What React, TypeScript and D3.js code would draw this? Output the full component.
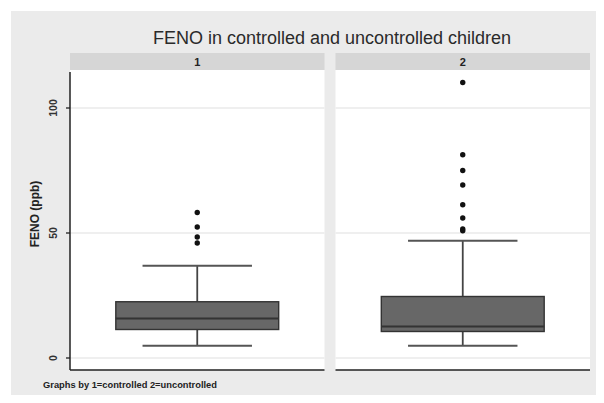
import React, { useRef, useEffect } from 'react';
import * as d3 from 'd3';

const groups = ['1', '2'];
const whiskerLow = [4.9, 4.9];
const q1 = [11.4, 10.6];
const median = [15.8, 12.6];
const q3 = [22.5, 24.6];
const whiskerHigh = [36.9, 46.9];
const outliers1 = [58.2, 52.4, 48.4, 46.0];
const outliers2 = [110.2, 81.3, 75.0, 69.2, 61.3, 56.0, 51.6, 50.9];
const yTicks = [0, 50, 100];

const WIDTH = 604;
const HEIGHT = 403;

function App() {
  const svgRef = useRef<SVGSVGElement>(null);

  useEffect(() => {
    const svg = d3.select(svgRef.current);
    svg.selectAll('*').remove();

    const font = '"Liberation Sans", Arial, sans-serif';
    const top = 70;
    const bottom = 370;

    // Outer background
    svg.append('rect')
      .attr('x', 11).attr('y', 11)
      .attr('width', WIDTH - 11).attr('height', HEIGHT - 11)
      .attr('fill', '#ebebeb');

    const x = d3.scaleBand()
      .domain(groups)
      .range([70, 590])
      .paddingInner(22 / 531)
      .paddingOuter(0);

    const y = d3.scaleLinear().domain([0, 100]).range([358, 108]);

    const outliers = [outliers1, outliers2];

    // Title
    svg.append('text')
      .attr('x', 332)
      .attr('y', 44)
      .attr('text-anchor', 'middle')
      .attr('font-family', font)
      .attr('font-size', 18)
      .attr('fill', '#2a2a2a')
      .text('FENO in controlled and uncontrolled children');

    const bw = x.bandwidth();

    groups.forEach((gName, i) => {
      const x0 = x(gName)!;
      const cx = x0 + bw / 2;
      const g = svg.append('g');

      // Strip
      g.append('rect')
        .attr('x', x0).attr('y', 53)
        .attr('width', bw).attr('height', 17)
        .attr('fill', '#d6d6d6');
      g.append('text')
        .attr('x', cx).attr('y', 65.5)
        .attr('text-anchor', 'middle')
        .attr('font-family', font)
        .attr('font-weight', 'bold')
        .attr('font-size', 11)
        .attr('fill', '#222')
        .text(gName);

      // Panel
      g.append('rect')
        .attr('x', x0).attr('y', top)
        .attr('width', bw).attr('height', bottom - top)
        .attr('fill', '#ffffff');

      // Gridlines
      g.selectAll('.grid')
        .data(yTicks)
        .enter()
        .append('line')
        .attr('x1', x0).attr('x2', x0 + bw)
        .attr('y1', d => y(d)).attr('y2', d => y(d))
        .attr('stroke', '#eaeaea')
        .attr('stroke-width', 1.3);

      // Whiskers
      const capW = bw * 0.43;
      g.append('line')
        .attr('x1', cx).attr('x2', cx)
        .attr('y1', y(whiskerHigh[i])).attr('y2', y(q3[i]))
        .attr('stroke', '#444').attr('stroke-width', 1.8);
      g.append('line')
        .attr('x1', cx).attr('x2', cx)
        .attr('y1', y(q1[i])).attr('y2', y(whiskerLow[i]))
        .attr('stroke', '#444').attr('stroke-width', 1.8);
      [whiskerHigh[i], whiskerLow[i]].forEach(v => {
        g.append('line')
          .attr('x1', cx - capW / 2).attr('x2', cx + capW / 2)
          .attr('y1', y(v)).attr('y2', y(v))
          .attr('stroke', '#555').attr('stroke-width', 1.8);
      });

      // Box
      const boxW = bw * 0.64;
      g.append('rect')
        .attr('x', cx - boxW / 2)
        .attr('y', y(q3[i]))
        .attr('width', boxW)
        .attr('height', y(q1[i]) - y(q3[i]))
        .attr('fill', '#676767')
        .attr('stroke', '#333')
        .attr('stroke-width', 1.4);
      g.append('line')
        .attr('x1', cx - boxW / 2).attr('x2', cx + boxW / 2)
        .attr('y1', y(median[i])).attr('y2', y(median[i]))
        .attr('stroke', '#333').attr('stroke-width', 2.2);

      // Outliers
      g.selectAll('.out')
        .data(outliers[i])
        .enter()
        .append('circle')
        .attr('cx', cx)
        .attr('cy', d => y(d))
        .attr('r', 2.7)
        .attr('fill', '#111');

      // Bottom axis line
      g.append('line')
        .attr('x1', x0).attr('x2', x0 + bw)
        .attr('y1', bottom).attr('y2', bottom)
        .attr('stroke', '#222').attr('stroke-width', 1.5);
    });

    // Left axis
    const x0 = x(groups[0])!;
    svg.append('line')
      .attr('x1', x0).attr('x2', x0)
      .attr('y1', 72).attr('y2', bottom)
      .attr('stroke', '#222').attr('stroke-width', 1.5);

    const ticks = svg.append('g');
    yTicks.forEach(t => {
      ticks.append('line')
        .attr('x1', x0 - 4).attr('x2', x0)
        .attr('y1', y(t)).attr('y2', y(t))
        .attr('stroke', '#222').attr('stroke-width', 1.3);
      ticks.append('text')
        .attr('transform', `translate(57, ${y(t)}) rotate(-90)`)
        .attr('text-anchor', 'middle')
        .attr('font-family', font)
        .attr('font-weight', 'bold')
        .attr('font-size', 10.5)
        .attr('fill', '#333')
        .text(t);
    });

    // Y label
    svg.append('text')
      .attr('transform', 'translate(39, 214) rotate(-90)')
      .attr('text-anchor', 'middle')
      .attr('font-family', font)
      .attr('font-weight', 'bold')
      .attr('font-size', 12)
      .attr('fill', '#222')
      .text('FENO (ppb)');

    // Footer note
    svg.append('text')
      .attr('x', 43)
      .attr('y', 388)
      .attr('font-family', font)
      .attr('font-weight', 'bold')
      .attr('font-size', 9.5)
      .attr('textLength', 174)
      .attr('lengthAdjust', 'spacingAndGlyphs')
      .attr('fill', '#222')
      .text('Graphs by 1=controlled 2=uncontrolled');
  }, []);

  return (
    <div style={{ margin: -8, background: '#ffffff' }}>
      <svg ref={svgRef} width={WIDTH} height={HEIGHT} style={{ display: 'block' }}></svg>
    </div>
  );
}

export default App;
